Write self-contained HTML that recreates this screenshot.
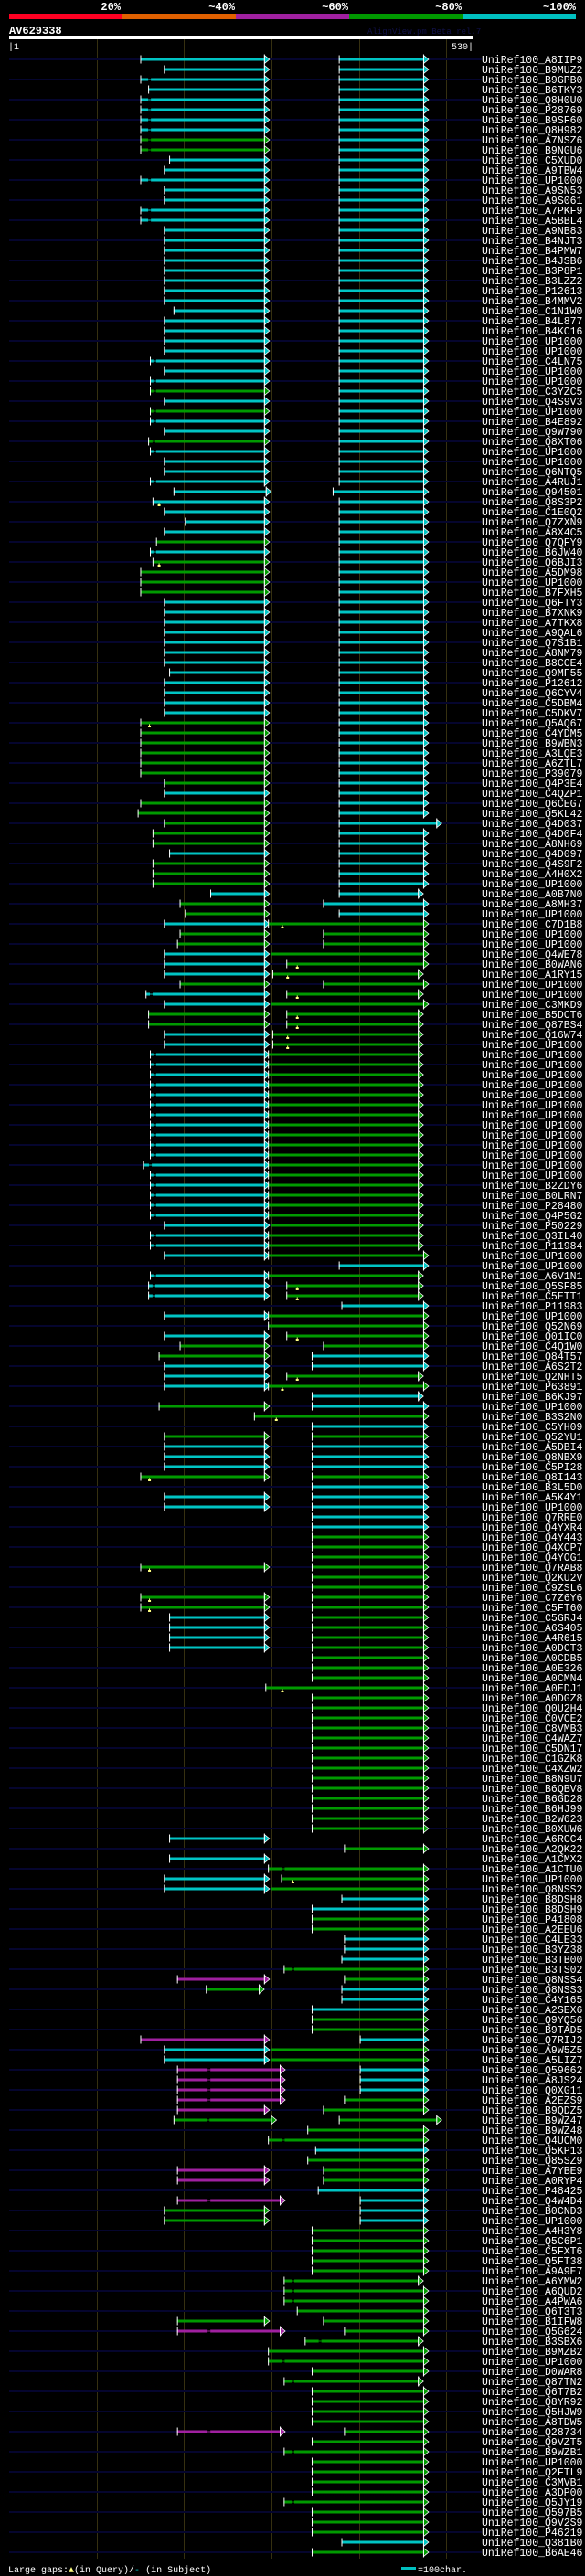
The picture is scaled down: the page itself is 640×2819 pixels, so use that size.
<!DOCTYPE html>
<html><head><meta charset="utf-8">
<style>
html,body{margin:0;padding:0;background:#000;}
body{width:640px;height:2819px;overflow:hidden;position:relative;font-family:"Liberation Mono",monospace;}
svg{position:absolute;left:0;top:0;}
</style></head>
<body>
<svg id="chart" width="640" height="2819" viewBox="0 0 640 2819" xmlns="http://www.w3.org/2000/svg">
  <rect x="0" y="0" width="640" height="2819" fill="#000"/>
  <g font-family="Liberation Mono, monospace" font-weight="bold" font-size="12" fill="#fff" text-anchor="end">
    <rect x="10" y="15" width="124" height="6" fill="#ff0022"/>
    <rect x="134" y="15" width="124" height="6" fill="#e06000"/>
    <rect x="258" y="15" width="124" height="6" fill="#a020a0"/>
    <rect x="382" y="15" width="124" height="6" fill="#009900"/>
    <rect x="506" y="15" width="124" height="6" fill="#00c0c0"/>
    <text x="132" y="11">20%</text>
    <text x="257" y="11">~40%</text>
    <text x="381" y="11">~60%</text>
    <text x="505" y="11">~80%</text>
    <text x="630" y="11">~100%</text>
  </g>
  <text x="10" y="37" font-family="Liberation Mono, monospace" font-weight="bold" font-size="12" fill="#fff">AV629338</text>
  <text x="402" y="37" font-family="Liberation Mono, monospace" font-size="9" fill="#101048">AlignView.pm Beta rel.7</text>
  <rect x="10" y="39" width="507" height="4" fill="#fff"/>
  <text x="9" y="54" font-family="Liberation Mono, monospace" font-size="10" fill="#fff">|1</text>
  <text x="518" y="54" text-anchor="end" font-family="Liberation Mono, monospace" font-size="10" fill="#fff">530|</text>
  <g id="grid"></g>
  <g id="rows"></g>
  <g font-family="Liberation Mono, monospace" font-size="10" fill="#fff">
    <text x="9" y="2815">Large gaps:<tspan fill="#ffff80">▲</tspan>(in Query)/<tspan fill="#00c0c0">-</tspan> (in Subject)</text>
    <rect x="439" y="2809" width="16" height="3" fill="#00c0c0"/>
    <text x="457" y="2815">=100char.</text>
  </g>
</svg>
<script>
const gridTicks = [100, 200, 300, 400, 500];
const labels = ["A8IIP9","B9MUZ2","B9GPB0","B6TKY3","Q8H0U0","P28769","B9SF60","Q8H982","A7NSZ6","B9NGU6",
"C5XUD0","A9TBW4","UP1000..","A9SN53","A9S061","A7PKF9","A5BBL4","A9NB83","B4NJT3","B4PMW7",
"B4JSB6","B3P8P1","B3LZZ2","P12613","B4MMV2","C1N1W0","B4L877","B4KC16","UP1000..","UP1000..",
"C4LN75","UP1000..","UP1000..","C3YZC5","Q4S9V3","UP1000..","B4E892","Q9W790","Q8XT06","UP1000..",
"UP1000..","Q6NTQ5","A4RUJ1","Q94501","Q8S3P2","C1E0Q2","Q7ZXN9","A8X4C5","Q7QFY9","B6JW40",
"Q6BJI3","A5DM98","UP1000..","B7FXH5","Q6FTY3","B7XNK9","A7TKX8","A9QAL6","Q7S1B1","A8NM79",
"B8CCE4","Q9MF55","P12612","Q6CYV4","C5DBM4","C5DKV7","Q5AQ67","C4YDM5","B9WBN3","A3LQE3",
"A6ZTL7","P39079","Q4P3E4","C4QZP1","Q6CEG7","Q5KL42","Q4D037","Q4D0F4","A8NH69","Q4D097",
"Q4S9F2","A4H0X2","UP1000..","A0B7N0","A8MH37","UP1000..","C7D1B8","UP1000..","UP1000..","Q4WE78",
"B0WAN6","A1RY15","UP1000..","UP1000..","C3MKD9","B5DCT6","Q87BS4","Q16W74","UP1000..","UP1000..",
"UP1000..","UP1000..","UP1000..","UP1000..","UP1000..","UP1000..","UP1000..","UP1000..","UP1000..","UP1000..",
"UP1000..","UP1000..","B2ZDY6","B0LRN7","P28480","Q4P5G2","P50229","Q3IL40","P11984","UP1000..",
"UP1000..","A6V1N1","Q5SF85","C5ETT1","P11983","UP1000..","Q52N69","Q01IC0","C4Q1W0","Q84T57",
"A6S2T2","Q2NHT5","P63891","B6KJ97","UP1000..","B3S2N0","C5YH09","Q52YU1","A5DBI4","Q8NBX9",
"C5PI28","Q8I143","B3L5D0","A5K4Y1","UP1000..","Q7RRE0","Q4YXR4","Q4Y443","Q4XCP7","Q4YOG1",
"Q7RAB8","Q2KU2V","C9ZSL6","C7Z6Y6","C5FT60","C5GRJ4","A6S405","A4R615","A0DCT3","A0CDB5",
"A0E326","A0CMN4","A0EDJ1","A0DGZ8","Q0U2H4","C0VCE2","C8VMB3","C4WAZ7","C5DN17","C1GZK8",
"C4XZW2","B8N9U7","B6QBV8","B6GD28","B6HJ99","B2W623","B0XUW6","A6RCC4","A2QK22","A1CMX2",
"A1CTU0","UP1000..","Q8NSS2","B8DSH8","B8DSH9","P41808","A2EEU6","C4LE33","B3YZ38","B3TB00",
"B3TS02","Q8NSS4","Q8NSS3","C4Y165","A2SEX6","Q9YQ56","B9TAD5","Q7RIJ2","A9W5Z5","A5LIZ7",
"Q59662","A8JS24","Q0XG11","A2EZS9","B9QDZ5","B9WZ47","B9WZ48","Q4UCM0","Q5KP13","Q85SZ9",
"A7YBE9","A0RYP4","P48425","Q4W4D4","B0CND3","UP1000..","A4H3Y8","Q5C6P1","C5FXT6","Q5FT38",
"A9A9E7","A6YMW2","A6QUD2","A4PWA6","Q6T3T3","B1IFW8","Q5G624","B3SBX6","B9MZB2","UP1000..",
"D0WAR8","Q87TN2","Q6T7B2","Q8YR92","Q5HJW9","A8TDW5","Q28734","Q9VZT5","B9WZB1","UP1000..",
"Q2FTL9","C3MVB1","A3DP00","Q5JY19","Q597B5","Q9V2S9","P46219","Q381B0","B6AE46"];
const N = null;
const aStart = [150,177,150,159,150,150,150,150,150,150,
183,177,150,177,177,150,150,177,177,177,
177,177,177,177,177,188,177,177,177,177,
161,177,161,161,177,161,161,177,159,161,
177,177,161,188,164,177,201,177,168,161,
164,150,150,150,177,177,177,177,177,177,
177,183,177,177,177,177,150,150,150,150,
150,150,177,177,150,147,177,164,164,183,
164,164,164,230,195,201,177,195,192,177,
177,177,195,156,177,159,159,177,177,161,
161,161,161,161,161,161,161,161,161,161,
153,161,161,161,161,161,177,161,161,177,
N,161,159,159,N,177,N,177,195,171,
177,177,177,N,171,N,N,177,177,177,
177,150,N,177,177,N,N,N,N,N,
150,N,N,150,150,183,183,183,183,N,
N,N,N,N,N,N,N,N,N,N,
N,N,N,N,N,N,N,183,N,183,
N,177,177,N,N,N,N,N,N,N,
N,192,225,N,N,N,N,150,177,177,
192,192,192,192,192,188,N,N,N,N,
192,192,N,192,177,177,N,N,N,N,
N,N,N,N,N,192,192,N,N,N,
N,N,N,N,N,N,192,N,N,N,
N,N,N,N,N,N,N,N,N];
const aEnd = [292,292,292,292,292,292,292,292,292,292, 292,292,292,292,292,292,292,292,292,292,
292,292,292,292,292,292,292,292,292,292, 292,292,292,292,292,292,292,292,292,292,
292,292,292,294,292,292,292,292,292,292, 292,292,292,292,292,292,292,292,292,292,
292,292,292,292,292,292,292,292,292,292, 292,292,292,292,292,292,292,292,292,292,
292,292,292,292,292,292,292,292,292,292, 292,292,292,292,292,292,292,292,292,292,
292,292,292,292,292,292,292,292,292,292, 292,292,292,292,292,292,292,292,292,292,
292,292,292,292,292,292,292,292,292,292, 292,292,292,292,292,292,292,292,292,292,
292,292,292,292,292,292,292,292,292,292, 292,292,292,292,292,292,292,292,292,292,
292,292,292,292,292,292,292,292,292,292, 292,292,292,292,292,292,292,292,292,292,
292,292,292,292,292,292,292,292,292,292, 292,292,286,292,292,292,292,292,292,292,
310,310,310,310,292,300,292,292,292,292, 292,292,292,310,292,292,292,292,292,292,
292,292,292,292,292,292,310,292,292,292, 292,292,292,292,292,292,310,292,292,292,
292,292,292,292,292,292,292,292,292];
const aColor = [
"ccccccccgg","cccccccccc","cccccccccc","cccgcgccgc","ccccccccgc",
"ggggcccccc","ccccccgggg","gggcgggggc","gggcggcggc","ccgccggccc",
"cccccccccc","cccccccccc","ccccccccgg","ccccgccgcc","cgcccccccc",
"gccggccccc","cccccccccc","cccccccccc","cccccccccc","cmgccccmcc",
"mmmmmgcccc","mmcmggcccc","cccccgmccc","ccccccmccc","ccccccccc"].join("");
const aGap = {2:159,4:159,5:159,6:159,7:159,8:159,9:159,12:159,15:159,16:159,
30:165,32:165,33:165,35:165,36:165,38:164,39:165,42:165,49:165,93:161,
99:165,100:165,101:165,102:165,103:165,104:165,105:165,106:165,107:165,108:165,109:165,110:160,
111:165,112:165,113:165,114:165,115:165,117:165,118:165,121:165,122:164,123:164,
200:227,201:227,202:227,203:227,205:226,213:227,226:227,236:227};
const bStart = [377,377,377,377,377,377,377,377,377,377, 377,377,377,377,377,377,377,377,377,377,
377,377,377,377,377,377,377,377,377,377, 377,377,377,377,377,377,377,377,377,377,
377,377,377,370,377,377,377,377,377,377, 377,377,377,377,377,377,377,377,377,377,
377,377,377,377,377,377,377,377,377,377, 377,377,377,377,377,377,377,377,377,377,
377,377,377,377,359,377,296,359,359,299, 317,301,359,317,299,317,317,301,301,296,
296,296,296,296,296,296,296,296,296,296, 296,296,296,296,296,296,299,296,296,296,
377,296,317,317,380,296,296,317,359,346, 346,317,296,346,346,280,346,346,346,346,
346,346,346,346,346,346,346,346,346,346, 346,346,346,346,346,346,346,346,346,346,
346,346,293,346,346,346,346,346,346,346, 346,346,346,346,346,346,346,N,383,N,
296,311,299,380,346,346,346,383,383,380, 314,383,380,380,346,346,346,401,299,299,
401,401,401,383,359,377,341,296,350,341, 359,359,353,401,401,401,346,346,346,346,
346,314,314,314,329,359,383,338,296,296, 346,314,346,346,346,346,383,346,314,346,
346,346,346,314,346,346,346,380,346];
const bEnd = [474,474,474,474,474,474,474,474,474,474, 474,474,474,474,474,474,474,474,474,474,
474,474,474,474,474,474,474,474,474,474, 474,474,474,474,474,474,474,474,474,474,
474,474,474,474,474,474,474,474,474,474, 474,474,474,474,474,474,474,474,474,474,
474,474,474,474,474,474,474,474,474,474, 474,474,474,474,474,474,489,474,474,474,
474,474,474,468,474,474,474,474,474,474, 474,468,474,468,474,468,468,468,468,468,
468,468,468,468,468,468,468,468,468,468, 468,468,468,468,468,468,468,468,468,474,
474,468,468,468,474,474,474,474,474,474, 474,468,474,468,474,474,474,474,474,474,
474,474,474,474,474,474,474,474,474,474, 474,474,474,474,474,474,474,474,474,474,
474,474,474,474,474,474,474,474,474,474, 474,474,474,474,474,474,474,474,474,474,
474,474,474,474,474,474,474,474,474,474, 474,474,474,474,474,474,474,474,474,474,
474,474,474,474,474,489,474,474,474,474, 474,474,474,474,474,474,474,474,474,474,
474,468,474,474,474,474,474,468,474,474, 474,468,474,474,474,474,474,474,474,474,
474,474,474,474,474,474,474,474,474];
const bColor = [
"cccccccccc","cccccccccc","cccccccccc","cccccccccc","cccccccccc",
"cccccccccc","cccccccccc","cccccccccc","ccccccgggg","gggggggggg",
"gggggggggg","gggggggggg","cgggcggggc","cggccgcgcc","cgcccccggg",
"gggggggggg","gggggggggg","gggggggcgc","gggccggccc","ggcccggcgg",
"cccgggggcg","ggccccgggg","gggggggggg","gggggggggg","gggggggcg"].join("");
const bGap = {180:312,190:323,207:312,221:323,222:323,223:323,227:354,229:312,231:323,238:323,243:323};
const queryGaps = {44:171,50:171,66:160,86:312,90:329,91:318,93:329,95:329,96:329,97:318,98:318,
122:329,123:329,127:329,131:329,132:312,135:305,141:160,150:160,153:160,154:160,162:312,181:324};

const COLORS = {c:"#00c4c4", g:"#009a00", m:"#a020a0"};
const X0 = 10, X1 = 517, QLEN = 530;
function xScale(p){ return X0 + p * (X1 - X0) / QLEN; }
function yRow(i){ return 65 + i * 11; }
const NS = "http://www.w3.org/2000/svg";
const grid = document.getElementById("grid");
const rowsG = document.getElementById("rows");

function mk(tag, parent){ const e = document.createElementNS(NS, tag); parent.appendChild(e); return e; }

gridTicks.forEach(function(t){
  const l = mk("rect", grid);
  
  
  l.setAttribute("x", Math.round(xScale(t))); l.setAttribute("y", 43);
  l.setAttribute("width", 1); l.setAttribute("height", 2757);
  l.setAttribute("fill", "#363010");
});

function drawSeg(g, i, s, e, col, gap, name){
  const y = yRow(i), x1 = xScale(s), x2 = xScale(e), c = COLORS[col] || COLORS.c;
  const bar = mk("rect", g);
  
  
  bar.setAttribute("x", x1); bar.setAttribute("y", y - 1.5);
  bar.setAttribute("width", x2 - x1); bar.setAttribute("height", 3); bar.setAttribute("fill", c);
  if (gap != null) {
    const gx = xScale(gap);
    const gb = mk("rect", g);
    
    
    gb.setAttribute("x", gx); gb.setAttribute("y", y - 1.5); gb.setAttribute("width", 3); gb.setAttribute("height", 3); gb.setAttribute("fill", "#000");
    const gl = mk("rect", g);
    
    
    gl.setAttribute("x", gx); gl.setAttribute("y", y - 0.5); gl.setAttribute("width", 3); gl.setAttribute("height", 1); gl.setAttribute("fill", c);
  }
  const tk = mk("rect", g);
  
  
  tk.setAttribute("x", x1); tk.setAttribute("y", y - 4.5); tk.setAttribute("width", 1); tk.setAttribute("height", 9); tk.setAttribute("fill", "#fff");
  const ar = mk("polygon", g);
  
  
  ar.setAttribute("points", x2 + "," + (y - 4.5) + " " + (x2 + 5.5) + "," + y + " " + x2 + "," + (y + 4.5));
  ar.setAttribute("fill", c); ar.setAttribute("stroke", "#fff"); ar.setAttribute("stroke-width", "0.8");
  const bl = mk("rect", g);
  
  
  bl.setAttribute("x", x2 - 0.5); bl.setAttribute("y", y - 5.5); bl.setAttribute("width", 1); bl.setAttribute("height", 11); bl.setAttribute("fill", "#fff");
}

for (let i = 0; i < labels.length; i++) {
  const g = mk("g", rowsG);
  
  
  const y = yRow(i);
  if (i % 2 === 0) {
    const bg = mk("rect", g);
    
    
    bg.setAttribute("x", 10); bg.setAttribute("y", y - 1); bg.setAttribute("width", 517); bg.setAttribute("height", 2); bg.setAttribute("fill", "#05052e");
  }
  if (aStart[i] != null) drawSeg(g, i, aStart[i], aEnd[i], aColor[i], aGap[i], 'hsp-a');
  if (bStart[i] != null) drawSeg(g, i, bStart[i], bEnd[i], bColor[i], bGap[i], 'hsp-b');
  if (queryGaps[i] != null) {
    const qx = xScale(queryGaps[i]);
    const st = mk("rect", g);
    
    
    st.setAttribute("x", qx); st.setAttribute("y", y + 1.5); st.setAttribute("width", 1); st.setAttribute("height", 2); st.setAttribute("fill", "#ffff80");
    const bs = mk("rect", g);
    
    
    bs.setAttribute("x", qx - 1); bs.setAttribute("y", y + 3); bs.setAttribute("width", 3); bs.setAttribute("height", 2); bs.setAttribute("fill", "#ffff80");
  }
  const t = mk("text", g);
  
  
  t.setAttribute("x", 527); t.setAttribute("y", y + 4);
  t.setAttribute("font-family", "Liberation Mono, monospace"); t.setAttribute("font-size", "11.5"); t.setAttribute("fill", "#fff");
  t.textContent = "UniRef100_" + labels[i];
}
</script>
</body></html>
